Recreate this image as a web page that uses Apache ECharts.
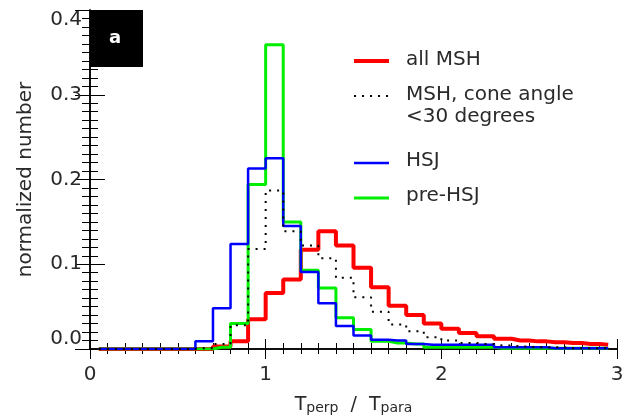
<!DOCTYPE html>
<html>
<head>
<meta charset="utf-8">
<script src="https://cdn.jsdelivr.net/npm/echarts@6/dist/echarts.min.js"></script>
<style>
  html, body { margin: 0; padding: 0; background: #fff; }
  #main { width: 635px; height: 420px; }
</style>
</head>
<body>
<div id="main"></div>
<script>
// bin centres of Tperp/Tpara histogram (bin width 0.1)
var binCenters = [0.05, 0.15, 0.25, 0.35, 0.45, 0.55, 0.65, 0.75, 0.85, 0.95,
  1.05, 1.15, 1.25, 1.35, 1.45, 1.55, 1.65, 1.75, 1.85, 1.95,
  2.05, 2.15, 2.25, 2.35, 2.45, 2.55, 2.65, 2.75, 2.85, 2.95];

var allMsh = [0, 0, 0, 0, 0, 0, 0, 0.003, 0.009, 0.035,
  0.066, 0.082, 0.117, 0.139, 0.122, 0.096, 0.073, 0.051, 0.040, 0.030,
  0.024, 0.019, 0.015, 0.012, 0.010, 0.009, 0.008, 0.007, 0.006, 0.005];

var mshCone = [0, 0, 0, 0, 0, 0, 0.001, 0.006, 0.028, 0.118,
  0.187, 0.139, 0.122, 0.107, 0.084, 0.061, 0.044, 0.029, 0.021, 0.014,
  0.010, 0.007, 0.006, 0.004, 0.003, 0.002, 0.002, 0.001, 0.001, 0.001];

var hsj = [0, 0, 0, 0, 0, 0, 0.009, 0.048, 0.124, 0.213,
  0.225, 0.145, 0.091, 0.054, 0.027, 0.016, 0.011, 0.010, 0.006, 0.005,
  0.005, 0.005, 0.005, 0.002, 0.002, 0.002, 0.001, 0.001, 0.001, 0.001];

var preHsj = [0, 0, 0, 0, 0, 0, 0, 0.002, 0.030, 0.194,
  0.359, 0.150, 0.093, 0.072, 0.037, 0.023, 0.009, 0.007, 0.006, 0.002,
  0.002, 0.002, 0.002, 0.001, 0.001, 0.001, 0.001, 0.001, 0.001, 0.001];

var xTicks = [0, 1, 2, 3];
var yTicks = [0, 0.1, 0.2, 0.3, 0.4];

var chartDom = document.getElementById('main');
var myChart = echarts.init(chartDom);
var FONT = 'DejaVu Sans';
var TXT = '#2a2a2a';

function pairs(vals) {
  return binCenters.map(function (x, i) { return [x, vals[i]]; });
}

function histSeries(name, vals, color, width, type) {
  return {
    name: name,
    type: 'line',
    step: 'middle',
    symbol: 'none',
    xAxisIndex: 0,
    yAxisIndex: 0,
    lineStyle: { color: color, width: width, type: type || 'solid' },
    data: pairs(vals),
    animation: false
  };
}

var axisLine = { show: true, lineStyle: { color: '#000', width: 1.5 } };

var option = {
  backgroundColor: '#fff',
  grid: { left: 90, right: 18, top: 10, bottom: 69 },
  xAxis: [
    {
      type: 'value', min: xTicks[0], max: xTicks[xTicks.length - 1], interval: 1,
      position: 'bottom',
      axisLine: axisLine,
      axisTick: { inside: true, length: 10, lineStyle: { color: '#000' } },
      minorTick: { show: true, splitNumber: 10, length: 6, lineStyle: { color: '#000' } },
      splitLine: { show: false },
      axisLabel: { color: TXT, fontFamily: FONT, fontSize: 20, margin: 16 },
      name: '{t|T}{s|perp}{t|  /  T}{s|para}',
      nameLocation: 'middle',
      nameGap: 44,
      nameTextStyle: {
        rich: {
          t: { fontFamily: FONT, fontSize: 19, color: TXT, verticalAlign: 'bottom' },
          s: { fontFamily: FONT, fontSize: 14, color: TXT, padding: [8, 0, 0, 0], verticalAlign: 'bottom' }
        }
      }
    },
    {
      type: 'value', min: 0, max: 3, interval: 1,
      position: 'top',
      axisLine: axisLine,
      axisTick: { inside: true, length: 10, lineStyle: { color: '#000' } },
      minorTick: { show: true, splitNumber: 10, length: 5, lineStyle: { color: '#000' } },
      splitLine: { show: false },
      axisLabel: { show: false }
    }
  ],
  yAxis: [
    {
      type: 'value', min: yTicks[0], max: yTicks[yTicks.length - 1], interval: 0.1,
      position: 'left',
      axisLine: axisLine,
      axisTick: { inside: true, length: 15, lineStyle: { color: '#000' } },
      minorTick: { show: true, splitNumber: 10, length: 8, lineStyle: { color: '#000' } },
      splitLine: { show: false },
      axisLabel: {
        color: TXT, fontFamily: FONT, fontSize: 20, margin: 8,
        verticalAlignMinLabel: 'bottom',
        verticalAlignMaxLabel: 'top',
        formatter: function (v) { return v.toFixed(1); }
      },
      name: 'normalized number',
      nameLocation: 'middle',
      nameGap: 54,
      nameTextStyle: { fontFamily: FONT, fontSize: 20, color: TXT }
    },
    {
      type: 'value', min: 0, max: 0.4, interval: 0.1,
      position: 'right',
      axisLine: axisLine,
      axisTick: { inside: true, length: 15, lineStyle: { color: '#000' } },
      minorTick: { show: true, splitNumber: 10, length: 8, lineStyle: { color: '#000' } },
      splitLine: { show: false },
      axisLabel: { show: false }
    }
  ],
  series: [
    histSeries('all MSH', allMsh, '#ff0000', 4),
    histSeries('pre-HSJ', preHsj, '#00ee00', 3),
    histSeries('HSJ', hsj, '#0000ff', 2.5),
    histSeries('MSH, cone angle <30 degrees', mshCone, '#000', 2, [2, 6])
  ],
  graphic: [
    { type: 'rect', left: 90, top: 10, shape: { width: 53, height: 57 }, style: { fill: '#000' }, z: 100 },
    { type: 'text', left: 109, top: 29, style: { text: 'a', fill: '#fff', font: 'bold 18px ' + FONT }, z: 101 },

    { type: 'line', shape: { x1: 354, y1: 61, x2: 389, y2: 61 }, style: { stroke: '#ff0000', lineWidth: 4 } },
    { type: 'text', left: 406, top: 50, style: { text: 'all MSH', fill: TXT, font: '20px ' + FONT } },

    { type: 'line', shape: { x1: 354, y1: 96, x2: 389, y2: 96 }, style: { stroke: '#000', lineWidth: 2, lineDash: [2, 6] } },
    { type: 'text', left: 406, top: 84, style: { text: 'MSH, cone angle\n<30 degrees', fill: TXT, font: '20px ' + FONT, lineHeight: 22 } },

    { type: 'line', shape: { x1: 354, y1: 163, x2: 389, y2: 163 }, style: { stroke: '#0000ff', lineWidth: 2.5 } },
    { type: 'text', left: 406, top: 151, style: { text: 'HSJ', fill: TXT, font: '20px ' + FONT } },

    { type: 'line', shape: { x1: 354, y1: 198, x2: 389, y2: 198 }, style: { stroke: '#00ee00', lineWidth: 3 } },
    { type: 'text', left: 406, top: 186, style: { text: 'pre-HSJ', fill: TXT, font: '20px ' + FONT } }
  ]
};

myChart.setOption(option);
</script>
</body>
</html>
